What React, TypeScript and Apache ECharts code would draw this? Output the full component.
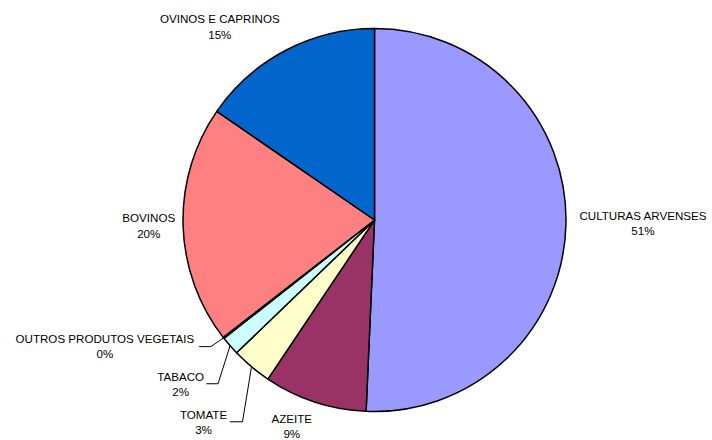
import React, { useEffect, useRef } from "react";
import * as echarts from "echarts";

const categories = [
  "CULTURAS ARVENSES",
  "AZEITE",
  "TOMATE",
  "TABACO",
  "OUTROS PRODUTOS VEGETAIS",
  "BOVINOS",
  "OVINOS E CAPRINOS",
];
const values = [50.7, 8.7, 3.4, 1.6, 0.1, 20.1, 15.4];
const colors = ["#9999FF", "#993366", "#FFFFCC", "#CCFFFF", "#660066", "#FF8080", "#0066CC"];

// label placement relative to the slice's outer-edge midpoint
const labelOffsets: [number, number][] = [
  [77, -1],
  [-23, 24],
  [-48, 55],
  [-49.4, 38.5],
  [-118.7, 8.3],
  [-34.3, 0],
  [-65.6, -24],
];
// leader line bends (null = no leader line)
const leaderBends: ([number, number][] | null)[] = [
  null,
  null,
  [[-9, 55], [-21.7, 55]],
  [[-12, 38], [-23.7, 38]],
  [[-12.7, 8.8], [-24.4, 8.8]],
  null,
  null,
];

const CX = 374.5;
const CY = 220;
const R = 191.5;

export default function App() {
  const ref = useRef<HTMLDivElement>(null);
  useEffect(() => {
    if (!ref.current) return;
    const chart = echarts.init(ref.current, null, { renderer: "svg" });
    const total = values.reduce((a, b) => a + b, 0);
    const edgePoint = (idx: number): [number, number] => {
      let cum = 0;
      for (let i = 0; i < idx; i++) cum += values[i];
      const mid = ((cum + values[idx] / 2) / total) * Math.PI * 2;
      return [CX + R * Math.sin(mid), CY - R * Math.cos(mid)];
    };
    chart.setOption({
      animation: false,
      backgroundColor: "#ffffff",
      series: [
        {
          type: "pie",
          center: [CX, CY],
          radius: R,
          startAngle: 90,
          clockwise: true,
          avoidLabelOverlap: false,
          minAngle: 0,
          data: categories.map((name, i) => ({
            name,
            value: values[i],
            itemStyle: { color: colors[i] },
            labelLine: { show: leaderBends[i] !== null },
          })),
          itemStyle: { borderColor: "#000", borderWidth: 1.5 },
          emphasis: { disabled: true },
          label: {
            show: true,
            position: "outside",
            formatter: (p: any) => `${p.name}\n${Math.round((p.value / total) * 100)}%`,
            fontFamily: "Liberation Sans, Arial, sans-serif",
            fontSize: 11.6,
            lineHeight: 15.5,
            color: "#000",
            align: "center",
          },
          labelLine: {
            show: true,
            lineStyle: { color: "#000", width: 1 },
          },
          labelLayout: (params: any) => {
            const i = params.dataIndex;
            const [ex, ey] = edgePoint(i);
            const off = labelOffsets[i];
            const res: any = {
              x: ex + off[0],
              y: ey + off[1],
              align: "center",
              verticalAlign: "middle",
            };
            const b = leaderBends[i];
            if (b) {
              res.labelLinePoints = [
                [ex, ey],
                [ex + b[0][0], ey + b[0][1]],
                [ex + b[1][0], ey + b[1][1]],
              ];
            }
            return res;
          },
        },
      ],
    });
    return () => chart.dispose();
  }, []);
  return (
    <div
      ref={ref}
      style={{ position: "fixed", left: 0, top: 0, width: 712, height: 440, background: "#fff" }}
    />
  );
}
